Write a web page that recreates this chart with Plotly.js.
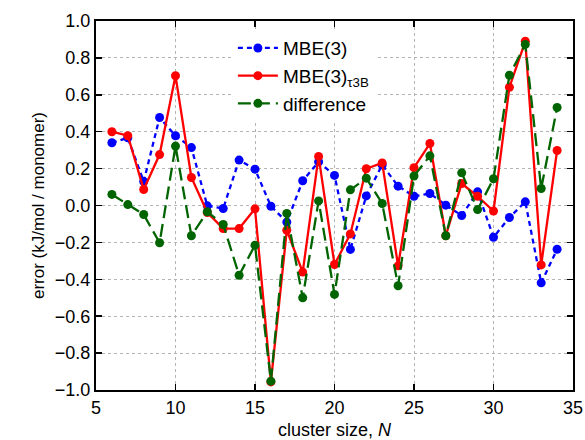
<!DOCTYPE html>
<html>
<head>
<meta charset="utf-8">
<script src="https://cdn.plot.ly/plotly-3.0.1.min.js"></script>
<style>html,body{margin:0;padding:0;background:#fff;}#chart{width:585px;height:440px;}</style>
</head>
<body>
<div id="chart"></div>
<script>
const clusterSize = [6,7,8,9,10,11,12,13,14,15,16,17,18,19,20,21,22,23,24,25,26,27,28,29,30,31,32,33,34];
const mbe3 = [0.34,0.367,0.13,0.477,0.378,0.314,-0.002,-0.016,0.246,0.197,-0.004,-0.090,0.134,0.237,0.163,-0.238,0.052,0.22,0.105,0.05,0.065,0.002,-0.054,0.074,-0.172,-0.065,0.02,-0.419,-0.237];
const mbe3t3b = [0.40,0.378,0.087,0.276,0.703,0.152,-0.038,-0.125,-0.125,-0.018,-0.956,-0.134,-0.361,0.266,-0.32,-0.154,0.199,0.231,-0.327,0.205,0.336,-0.164,0.119,0.05,-0.03,0.641,0.89,-0.322,0.298];
const difference = [0.06,0.005,-0.049,-0.202,0.322,-0.164,-0.034,-0.103,-0.378,-0.215,-0.952,-0.043,-0.50,0.025,-0.482,0.085,0.148,0.011,-0.435,0.16,0.269,-0.164,0.177,-0.022,0.145,0.706,0.873,0.092,0.531];
const xTicks = [5,10,15,20,25,30,35];
const yTicks = [-1.0,-0.8,-0.6,-0.4,-0.2,0.0,0.2,0.4,0.6,0.8,1.0];

const traces = [
  {x: clusterSize, y: mbe3, name: 'MBE(3)', mode: 'lines+markers',
   line: {color: '#0000ff', width: 2.3, dash: '5px,4px'}, marker: {color: '#0000ff', size: 9}},
  {x: clusterSize, y: mbe3t3b, name: 'MBE(3)<sub>τ3B</sub>', mode: 'lines+markers',
   line: {color: '#ff0000', width: 2.3}, marker: {color: '#ff0000', size: 9}},
  {x: clusterSize, y: difference, name: 'difference', mode: 'lines+markers',
   line: {color: '#006400', width: 2.3, dash: '13px,6px'}, marker: {color: '#006400', size: 9}}
];

const fam = '"Liberation Sans", Arial, sans-serif';
const tickFont = {family: fam, size: 18, color: '#000'};
const layout = {
  width: 585, height: 440,
  margin: {l: 96, r: 12, t: 21, b: 50},
  paper_bgcolor: '#fff', plot_bgcolor: '#fff',
  font: {family: fam, size: 16, color: '#000'},
  showlegend: true,
  legend: {x: 0.287, y: 0.978, xanchor: 'left', yanchor: 'top', bgcolor: '#fff',
           itemwidth: 40, font: {family: fam, size: 19, color: '#000'}, traceorder: 'normal'},
  xaxis: {range: [5, 35], tickvals: xTicks, ticktext: xTicks.map(String),
          ticks: 'inside', ticklen: 6, tickwidth: 1.5, tickcolor: '#000',
          showline: true, linecolor: '#000', linewidth: 2, mirror: 'ticks',
          showgrid: true, gridcolor: '#b4b4b4', gridwidth: 1, griddash: '3px,3px',
          zeroline: false, tickfont: tickFont,
          title: {text: 'cluster size, <i>N</i>', font: {family: fam, size: 18, color: '#000'}, standoff: 9}},
  yaxis: {range: [-1, 1], tickvals: yTicks, tickformat: '.1f',
          ticks: 'inside', ticklen: 6, tickwidth: 1.5, tickcolor: '#000',
          showline: true, linecolor: '#000', linewidth: 2, mirror: 'ticks',
          showgrid: true, gridcolor: '#b4b4b4', gridwidth: 1, griddash: '3px,3px',
          zeroline: false, tickfont: tickFont,
          title: {text: 'error (kJ/mol / monomer)', font: {family: fam, size: 17, color: '#000'}, standoff: 6}}
};
Plotly.newPlot('chart', traces, layout, {displayModeBar: false, staticPlot: true});
</script>
</body>
</html>
